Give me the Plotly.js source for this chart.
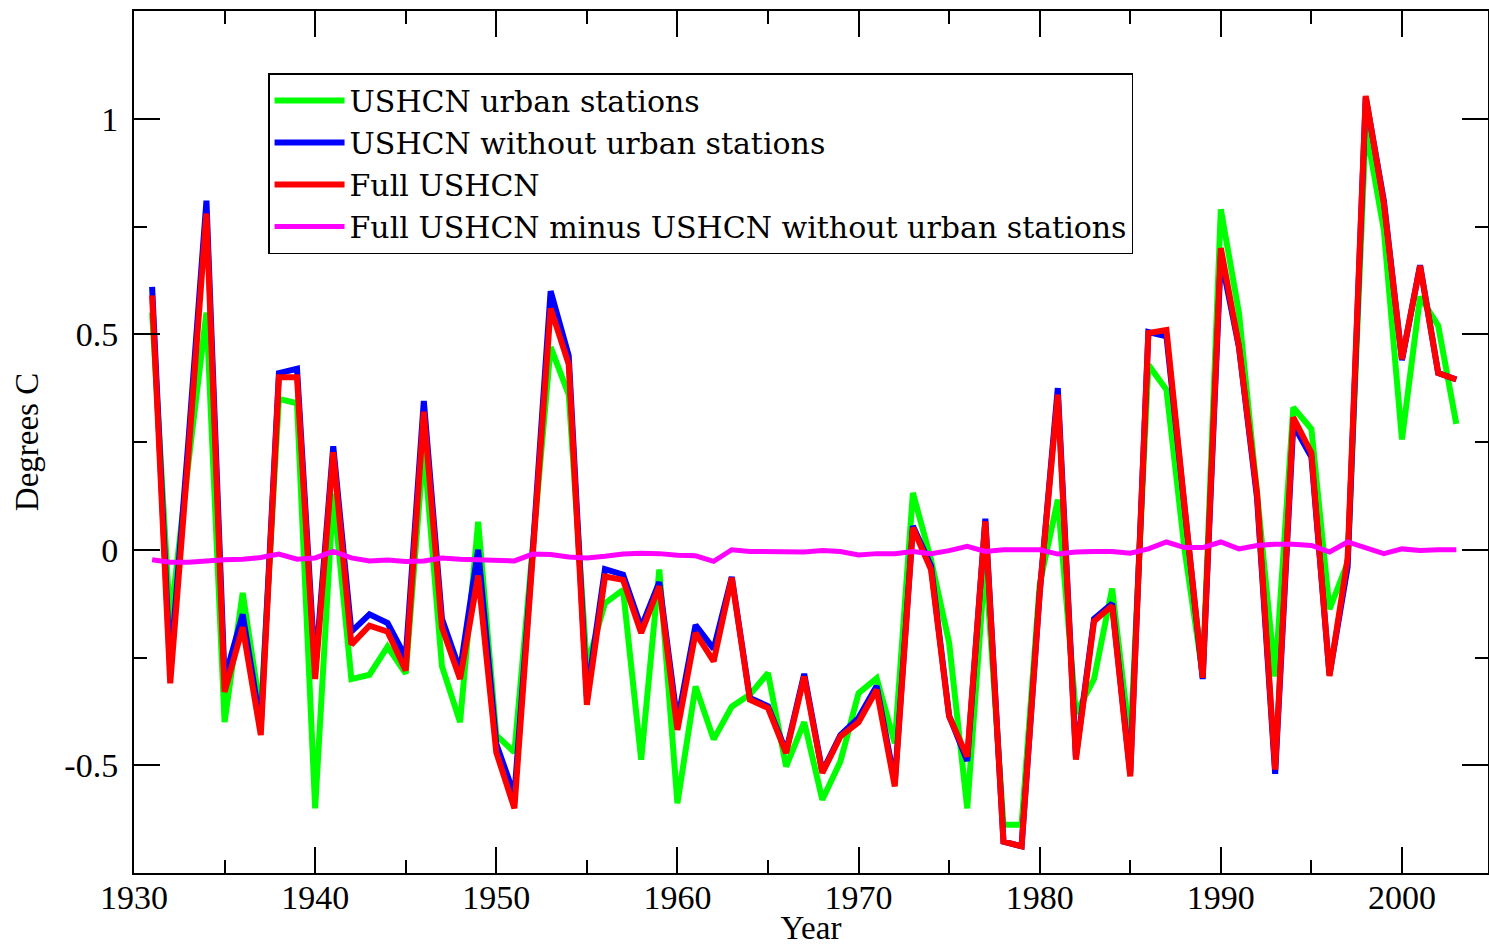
<!DOCTYPE html>
<html>
<head>
<meta charset="utf-8">
<script src="https://cdn.plot.ly/plotly-3.0.1.min.js"></script>
<style>
html,body{margin:0;padding:0;background:#fff;}
#chart{width:1489px;height:946px;}
</style>
</head>
<body>
<div id="chart"></div>
<script>
var years = [1931,1932,1933,1934,1935,1936,1937,1938,1939,1940,
  1941,1942,1943,1944,1945,1946,1947,1948,1949,1950,
  1951,1952,1953,1954,1955,1956,1957,1958,1959,1960,
  1961,1962,1963,1964,1965,1966,1967,1968,1969,1970,
  1971,1972,1973,1974,1975,1976,1977,1978,1979,1980,
  1981,1982,1983,1984,1985,1986,1987,1988,1989,1990,
  1991,1992,1993,1994,1995,1996,1997,1998,1999,2000,
  2001,2002,2003];

var urban = [0.55,-0.17,0.20,0.55,-0.40,-0.10,-0.38,0.35,0.34,-0.60,
  0.13,-0.30,-0.29,-0.225,-0.287,0.24,-0.27,-0.40,0.065,-0.43,
  -0.47,0.00,0.47,0.36,-0.27,-0.124,-0.093,-0.487,-0.046,-0.588,
  -0.317,-0.44,-0.364,-0.336,-0.286,-0.503,-0.40,-0.58,-0.491,-0.333,
  -0.298,-0.449,0.132,-0.023,-0.216,-0.60,-0.023,-0.638,-0.638,-0.08,
  0.116,-0.38,-0.30,-0.09,-0.45,0.429,0.371,0.00,-0.29,0.79,
  0.55,0.131,-0.294,0.33,0.28,-0.138,-0.03,0.98,0.742,0.256,
  0.587,0.52,0.292];

var withoutUrban = [0.61,-0.28,0.25,0.81,-0.30,-0.15,-0.41,0.41,0.42,-0.28,
  0.24,-0.19,-0.15,-0.17,-0.25,0.345,-0.16,-0.28,0.00,-0.45,
  -0.57,-0.01,0.60,0.45,-0.34,-0.045,-0.058,-0.18,-0.075,-0.40,
  -0.175,-0.23,-0.063,-0.344,-0.363,-0.468,-0.288,-0.515,-0.43,-0.39,
  -0.316,-0.54,0.055,-0.037,-0.385,-0.49,0.072,-0.677,-0.688,-0.10,
  0.375,-0.48,-0.16,-0.125,-0.518,0.505,0.495,0.095,-0.30,0.68,
  0.47,0.12,-0.52,0.29,0.215,-0.29,-0.04,1.05,0.81,0.44,
  0.66,0.41,0.395];

var fullUSHCN = [0.59,-0.31,0.22,0.78,-0.33,-0.18,-0.43,0.40,0.40,-0.30,
  0.226,-0.22,-0.176,-0.19,-0.28,0.32,-0.18,-0.30,-0.06,-0.47,
  -0.60,-0.02,0.56,0.43,-0.36,-0.062,-0.07,-0.193,-0.085,-0.418,
  -0.193,-0.259,-0.065,-0.348,-0.367,-0.472,-0.294,-0.518,-0.433,-0.40,
  -0.325,-0.549,0.051,-0.046,-0.387,-0.48,0.066,-0.677,-0.688,-0.10,
  0.36,-0.487,-0.166,-0.13,-0.526,0.503,0.51,0.10,-0.297,0.70,
  0.472,0.131,-0.51,0.307,0.225,-0.293,-0.02,1.053,0.804,0.442,
  0.659,0.41,0.395];

var difference = [-0.023,-0.029,-0.029,-0.025,-0.023,-0.022,-0.018,-0.010,-0.022,-0.019,
  -0.004,-0.019,-0.026,-0.024,-0.027,-0.026,-0.019,-0.022,-0.024,-0.025,
  -0.026,-0.010,-0.011,-0.017,-0.019,-0.015,-0.010,-0.008,-0.009,-0.013,
  -0.014,-0.027,0.000,-0.004,-0.004,-0.004,-0.005,-0.002,-0.004,-0.012,
  -0.009,-0.009,-0.004,-0.009,-0.002,0.008,-0.004,0.000,0.000,0.000,
  -0.010,-0.005,-0.004,-0.004,-0.008,0.002,0.018,0.005,0.005,0.018,
  0.002,0.010,0.013,0.013,0.010,-0.005,0.018,0.005,-0.009,0.002,
  -0.002,0.000,0.000];

var seriesNames = ["USHCN urban stations","USHCN without urban stations","Full USHCN","Full USHCN minus USHCN without urban stations"];
var yTickVals = [-0.5,0,0.5,1];
var yTickText = ["-0.5","0","0.5","1"];
var yMinorVals = [-0.75,-0.25,0.25,0.75,1.25];
var xTickVals = [1930,1940,1950,1960,1970,1980,1990,2000];
var xTickText = ["1930","1940","1950","1960","1970","1980","1990","2000"];

var traces = [
  {x: years, y: urban, name: seriesNames[0], type:'scatter', mode:'lines', line:{color:'#00ff00', width:6}},
  {x: years, y: withoutUrban, name: seriesNames[1], type:'scatter', mode:'lines', line:{color:'#0000ff', width:6}},
  {x: years, y: fullUSHCN, name: seriesNames[2], type:'scatter', mode:'lines', line:{color:'#ff0000', width:6}},
  {x: years, y: difference, name: seriesNames[3], type:'scatter', mode:'lines', line:{color:'#ff00ff', width:5}}
];

var serif = '"Liberation Serif", "Times New Roman", serif';

var layout = {
  width: 1489, height: 946,
  margin: {l:134, r:1, t:11, b:73, pad:0},
  paper_bgcolor:'#fff', plot_bgcolor:'#fff',
  showlegend: true,
  legend: {
    x: 0.099, y: 0.928, xanchor:'left', yanchor:'top',
    bgcolor:'#fff', bordercolor:'#000', borderwidth:1.5,
    font: {family:'"DejaVu Serif", serif', size:30, color:'#000'},
    itemwidth: 70, traceorder:'normal'
  },
  xaxis: {
    range:[1930, 2004.75], showgrid:false, zeroline:false,
    showline:true, linecolor:'#000', linewidth:2, mirror:'allticks',
    ticks:'inside', ticklen:26, tickwidth:2, tickcolor:'#000',
    tickmode:'array', tickvals:xTickVals, ticktext:xTickText,
    minor:{tickmode:'linear', tick0:1935, dtick:10, ticks:'inside', ticklen:13, tickwidth:2, tickcolor:'#000', showgrid:false},
    tickfont:{family:serif, size:34, color:'#000'},
    ticklabelstandoff: -7,
    title:{text:'Year', font:{family:serif, size:33, color:'#000'}, standoff:26}
  },
  yaxis: {
    range:[-0.75, 1.25], showgrid:false, zeroline:false,
    showline:true, linecolor:'#000', linewidth:2, mirror:'allticks',
    ticks:'inside', ticklen:26, tickwidth:2, tickcolor:'#000',
    tickmode:'array', tickvals:yTickVals, ticktext:yTickText,
    minor:{tickmode:'array', tickvals:yMinorVals, ticks:'inside', ticklen:13, tickwidth:2, tickcolor:'#000', showgrid:false},
    tickfont:{family:serif, size:34, color:'#000'},
    ticklabelstandoff: 7,
    title:{text:'Degrees C', font:{family:serif, size:33, color:'#000'}, standoff:16}
  }
};

Plotly.newPlot('chart', traces, layout, {displayModeBar:false, staticPlot:true});
</script>
</body>
</html>
